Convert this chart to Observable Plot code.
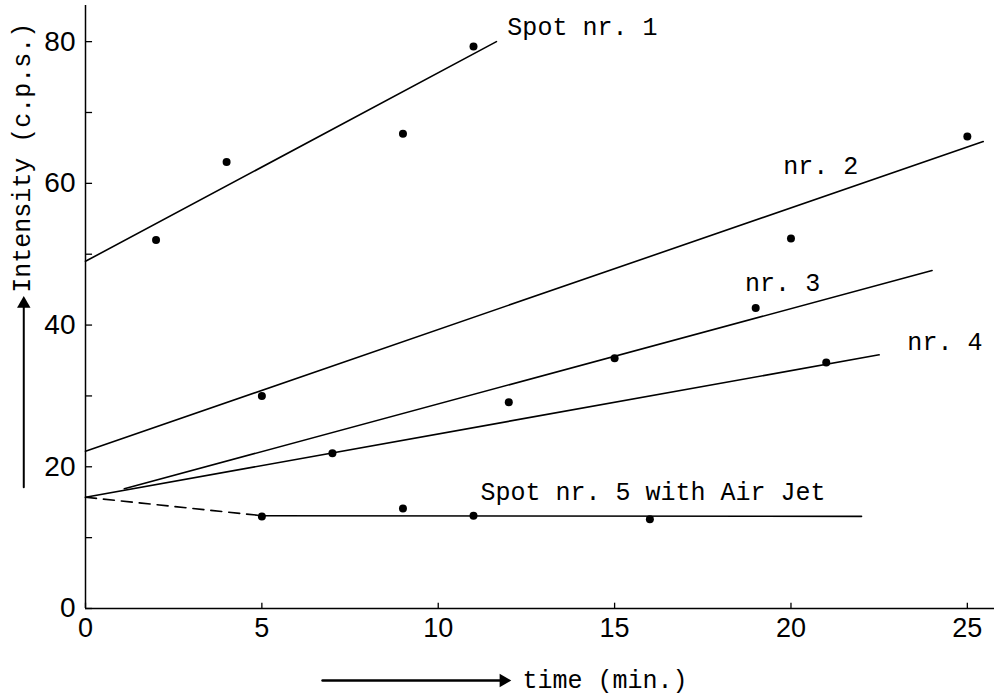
<!DOCTYPE html>
<html>
<head>
<meta charset="utf-8">
<script src="https://cdn.jsdelivr.net/npm/d3@7"></script>
<script src="https://cdn.jsdelivr.net/npm/@observablehq/plot@0.6"></script>
<style>
  html, body { margin: 0; padding: 0; background: #fff; }
  svg { display: block; }
</style>
</head>
<body>
<div id="chart"></div>
<script>
// Measured points (time in min, intensity in c.p.s.)
const spot1X = [2, 4, 9, 11];
const spot1Y = [52, 63, 67, 79.3];
const spot2X = [5, 20, 25];
const spot2Y = [30, 52.2, 66.6];
const spot3X = [12, 15, 19];
const spot3Y = [29.1, 35.3, 42.4];
const spot4X = [7, 21];
const spot4Y = [21.9, 34.7];
const spot5X = [5, 9, 11, 16];
const spot5Y = [13.0, 14.1, 13.1, 12.6];

// Fitted straight lines (end points)
const line1X = [0, 11.65];   const line1Y = [49, 80];
const line2X = [0, 25.45];   const line2Y = [22.2, 65.9];
const line3X = [1.1, 24.0];  const line3Y = [16.9, 47.7];
const line4X = [0, 22.5];    const line4Y = [15.7, 35.8];
const line5DashX = [0, 5];   const line5DashY = [15.7, 13.1];
const line5X = [5, 22];      const line5Y = [13.1, 13.0];

// Series labels
const labelText = ["Spot nr. 1", "nr. 2", "nr. 3", "nr. 4", "Spot nr. 5 with Air Jet"];
const labelX = [11.96, 19.78, 18.7, 23.3, 11.2];
const labelY = [82.0, 62.5, 45.9, 37.6, 16.5];

// Axis ticks
const xTicks = [0, 5, 10, 15, 20, 25];
const yTickMarks = [0, 10, 20, 30, 40, 50, 60, 70, 80];
const yTickLabels = [0, 20, 40, 60, 80];

const mono = "'Liberation Mono', 'DejaVu Sans Mono', monospace";
const tickFontX = "'Liberation Sans Narrow', 'Liberation Sans', sans-serif";
const tickFontY = "'Liberation Sans', 'DejaVu Sans', sans-serif";

const allPointsX = [...spot1X, ...spot2X, ...spot3X, ...spot4X, ...spot5X];
const allPointsY = [...spot1Y, ...spot2Y, ...spot3Y, ...spot4Y, ...spot5Y];

const lw = 1.6;

const chart = Plot.plot({
  width: 994,
  height: 696,
  marginLeft: 85,
  marginRight: 0,
  marginTop: 5,
  marginBottom: 88,
  style: { background: "#fff", color: "#000", fontFamily: mono },
  x: { domain: [0, 25.77], axis: null },
  y: { domain: [0, 85.1], axis: null },
  marks: [
    // axis lines
    Plot.ruleY([0], { stroke: "#000", strokeWidth: 1.5 }),
    Plot.ruleX([0], { stroke: "#000", strokeWidth: 1.5 }),
    // inward ticks
    Plot.ruleX(xTicks, { x: d => d, y1: 0, y2: 0.75, stroke: "#000", strokeWidth: 1.3 }),
    Plot.ruleY(yTickMarks, { y: d => d, x1: 0, x2: 0.2, stroke: "#000", strokeWidth: 1.3 }),
    // tick labels
    Plot.axisX({ ticks: xTicks, tickSize: 0, tickPadding: 9, label: null, fontSize: 27, fontFamily: tickFontX, tickFormat: d => String(d) }),
    Plot.axisY({ ticks: yTickLabels, tickSize: 0, tickPadding: 10, label: null, fontSize: 28, fontFamily: tickFontY, tickFormat: d => String(d) }),
    // fitted lines
    Plot.line(line1X, { x: line1X, y: line1Y, stroke: "#000", strokeWidth: lw }),
    Plot.line(line2X, { x: line2X, y: line2Y, stroke: "#000", strokeWidth: lw }),
    Plot.line(line3X, { x: line3X, y: line3Y, stroke: "#000", strokeWidth: lw }),
    Plot.line(line4X, { x: line4X, y: line4Y, stroke: "#000", strokeWidth: lw }),
    Plot.line(line5DashX, { x: line5DashX, y: line5DashY, stroke: "#000", strokeWidth: lw, strokeDasharray: "11,7" }),
    Plot.line(line5X, { x: line5X, y: line5Y, stroke: "#000", strokeWidth: lw }),
    // measured points
    Plot.dot(allPointsX, { x: allPointsX, y: allPointsY, r: 4, fill: "#000", stroke: null }),
    // series labels
    Plot.text(labelText, { x: labelX, y: labelY, text: labelText, textAnchor: "start", lineAnchor: "middle", fontSize: 25, fontFamily: mono, fill: "#000" }),
    // y axis title and arrow
    Plot.text(["Intensity (c.p.s.)"], { x: -1.79, y: 63.6, text: d => d, rotate: -90, textAnchor: "middle", lineAnchor: "middle", fontSize: 25, fontFamily: mono, fill: "#000", clip: false }),
    Plot.line([0, 1], { x: [-1.75, -1.75], y: [17.1, 42.5], stroke: "#000", strokeWidth: 2 }),
    Plot.dot([0], { x: -1.75, y: 43.0, symbol: "triangle", r: 5, fill: "#000", stroke: null }),
    // x axis title and arrow
    Plot.text(["time (min.)"], { x: 12.39, y: -10.16, text: d => d, textAnchor: "start", lineAnchor: "middle", fontSize: 25, fontFamily: mono, fill: "#000" }),
    Plot.line([0, 1], { x: [6.72, 11.8], y: [-10.16, -10.16], stroke: "#000", strokeWidth: 2.5 }),
    Plot.dot([0], { x: 11.85, y: -10.16, symbol: "triangle", rotate: 90, r: 5, fill: "#000", stroke: null })
  ]
});
document.getElementById("chart").appendChild(chart);
</script>
</body>
</html>
